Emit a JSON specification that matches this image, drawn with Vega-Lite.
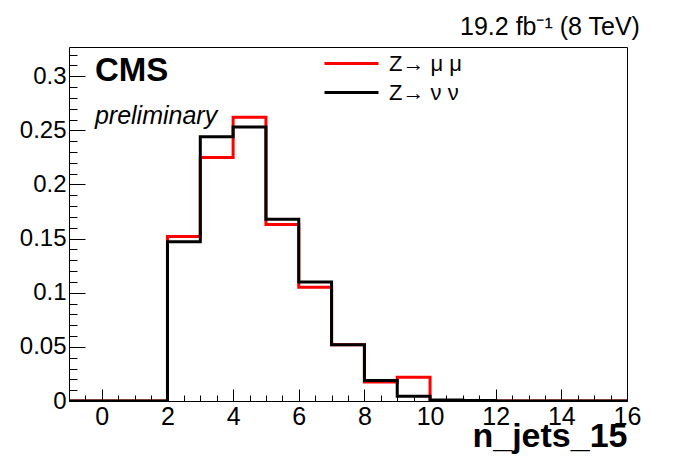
{
  "$schema": "https://vega.github.io/schema/vega-lite/v6.json",
  "width": 558,
  "height": 354,
  "autosize": "none",
  "padding": {"left": 69, "top": 47, "right": 69, "bottom": 71},
  "background": "white",
  "title": {"text": "19.2 fb⁻¹ (8 TeV)", "anchor": "end", "font": "Liberation Sans", "fontSize": 25, "fontWeight": "normal", "color": "black", "dx": -1, "offset": 3},
  "config": {
    "view": {"stroke": "black", "strokeWidth": 1},
    "axis": {"labelFont": "Liberation Sans", "labelColor": "black", "tickColor": "black", "tickWidth": 1, "domain": false, "grid": false, "titleFont": "Liberation Sans", "titleColor": "black"},
    "legend": {"labelFont": "Liberation Sans", "labelColor": "black"}
  },
  "encoding": {
    "x": {"field": "x", "type": "quantitative", "scale": {"domain": [-1, 16], "nice": false, "zero": false},
      "axis": {"values": [-1,-0.5,0,0.5,1,1.5,2,2.5,3,3.5,4,4.5,5,5.5,6,6.5,7,7.5,8,8.5,9,9.5,10,10.5,11,11.5,12,12.5,13,13.5,14,14.5,15,15.5,16],
        "labelExpr": "datum.value % 2 == 0 ? format(datum.value, '~g') : ''",
        "labelFontSize": 25, "labelFlush": false, "labelOverlap": false, "labelBaseline": "top", "labelPadding": 15,
        "tickSize": {"condition": {"test": "datum.value % 2 == 0", "value": -12}, "value": -6},
        "title": "n_jets_15", "titleFontSize": 34, "titleFontWeight": "bold", "titleAnchor": "end", "titleAlign": "right", "titlePadding": -16}},
    "y": {"field": "y", "type": "quantitative", "scale": {"domain": [0, 0.327], "nice": false},
      "axis": {"values": [0,0.01,0.02,0.03,0.04,0.05,0.06,0.07,0.08,0.09,0.1,0.11,0.12,0.13,0.14,0.15,0.16,0.17,0.18,0.19,0.2,0.21,0.22,0.23,0.24,0.25,0.26,0.27,0.28,0.29,0.3,0.31,0.32],
        "labelExpr": "round(datum.value*100) % 5 == 0 ? format(datum.value, '~g') : ''",
        "labelFontSize": 24, "labelFlush": false, "labelOverlap": false, "labelPadding": 19,
        "tickSize": {"condition": {"test": "round(datum.value*100) % 5 == 0", "value": -16}, "value": -8},
        "title": null}}
  },
  "layer": [
    {
      "data": {"values": [
        {"sample": "Z→ μ μ", "x": -1, "y": 0},
        {"sample": "Z→ μ μ", "x": 0, "y": 0},
        {"sample": "Z→ μ μ", "x": 1, "y": 0},
        {"sample": "Z→ μ μ", "x": 2, "y": 0.152},
        {"sample": "Z→ μ μ", "x": 3, "y": 0.225},
        {"sample": "Z→ μ μ", "x": 4, "y": 0.262},
        {"sample": "Z→ μ μ", "x": 5, "y": 0.163},
        {"sample": "Z→ μ μ", "x": 6, "y": 0.105},
        {"sample": "Z→ μ μ", "x": 7, "y": 0.052},
        {"sample": "Z→ μ μ", "x": 8, "y": 0.0175},
        {"sample": "Z→ μ μ", "x": 9, "y": 0.022},
        {"sample": "Z→ μ μ", "x": 10, "y": 0.0005},
        {"sample": "Z→ μ μ", "x": 11, "y": 0.0003},
        {"sample": "Z→ μ μ", "x": 12, "y": 0},
        {"sample": "Z→ μ μ", "x": 13, "y": 0},
        {"sample": "Z→ μ μ", "x": 14, "y": 0},
        {"sample": "Z→ μ μ", "x": 15, "y": 0},
        {"sample": "Z→ μ μ", "x": 16, "y": 0}
      ]},
      "mark": {"type": "line", "interpolate": "step-after", "strokeWidth": 3, "clip": true},
      "encoding": {
        "color": {"field": "sample", "type": "nominal", "scale": {"domain": ["Z→ μ μ", "Z→ ν ν"], "range": ["#ff0000", "#000000"]},
          "legend": {"title": null, "orient": "none", "legendX": 271, "legendY": 5, "symbolType": "M-2.7,0H2.7", "symbolSize": 400, "symbolStrokeWidth": 3, "labelFontSize": 22, "labelOffset": 26, "rowPadding": 6}}
      }
    },
    {
      "data": {"values": [
        {"sample": "Z→ ν ν", "x": -1, "y": 0},
        {"sample": "Z→ ν ν", "x": 0, "y": 0},
        {"sample": "Z→ ν ν", "x": 1, "y": 0},
        {"sample": "Z→ ν ν", "x": 2, "y": 0.147},
        {"sample": "Z→ ν ν", "x": 3, "y": 0.244},
        {"sample": "Z→ ν ν", "x": 4, "y": 0.253},
        {"sample": "Z→ ν ν", "x": 5, "y": 0.168},
        {"sample": "Z→ ν ν", "x": 6, "y": 0.110},
        {"sample": "Z→ ν ν", "x": 7, "y": 0.052},
        {"sample": "Z→ ν ν", "x": 8, "y": 0.019},
        {"sample": "Z→ ν ν", "x": 9, "y": 0.0045},
        {"sample": "Z→ ν ν", "x": 10, "y": 0.001},
        {"sample": "Z→ ν ν", "x": 11, "y": 0.0005},
        {"sample": "Z→ ν ν", "x": 12, "y": 0},
        {"sample": "Z→ ν ν", "x": 13, "y": 0},
        {"sample": "Z→ ν ν", "x": 14, "y": 0},
        {"sample": "Z→ ν ν", "x": 15, "y": 0},
        {"sample": "Z→ ν ν", "x": 16, "y": 0}
      ]},
      "mark": {"type": "line", "interpolate": "step-after", "strokeWidth": 3, "clip": true},
      "encoding": {
        "color": {"field": "sample", "type": "nominal"}
      }
    },
    {
      "data": {"values": [{"t": "CMS", "x": -0.21, "y": 0.2955}]},
      "mark": {"type": "text", "align": "left", "baseline": "alphabetic", "font": "Liberation Sans", "fontSize": 33, "fontWeight": "bold", "color": "black"},
      "encoding": {"text": {"field": "t"}}
    },
    {
      "data": {"values": [{"t": "preliminary", "x": -0.21, "y": 0.2558}]},
      "mark": {"type": "text", "align": "left", "baseline": "alphabetic", "font": "Liberation Sans", "fontSize": 25, "fontStyle": "italic", "color": "black"},
      "encoding": {"text": {"field": "t"}}
    }
  ]
}
